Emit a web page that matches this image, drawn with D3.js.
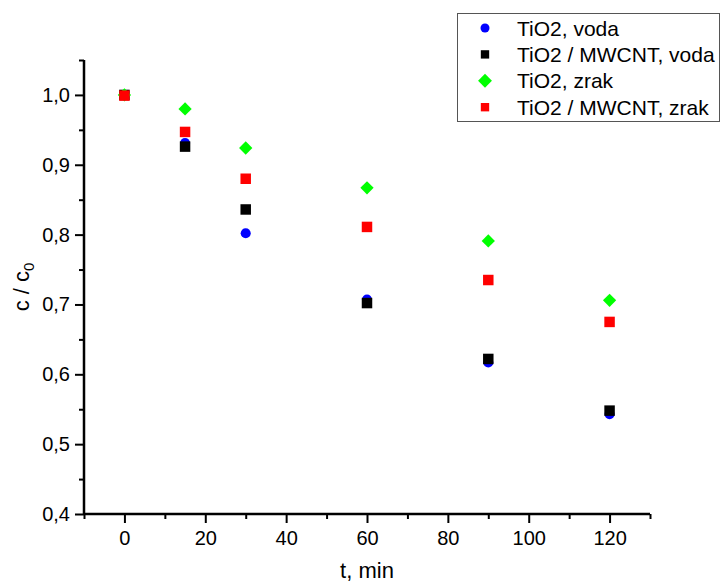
<!DOCTYPE html>
<html lang="hr">
<head>
<meta charset="UTF-8">
<title>c / c0 vs t</title>
<script src="https://cdnjs.cloudflare.com/ajax/libs/d3/7.8.5/d3.min.js"></script>
<style>
    * { margin: 0; padding: 0; }
    body { background: #fff; font-family: "Liberation Sans", Arial, sans-serif; }
    svg { display: block; }
    .axis path, .axis line { stroke: #000; }
</style>
</head>
<body>
<div id="chart"></div>
<script>
    // data
    var times = [0, 15, 30, 60, 90, 120];
    var tio2Voda = [1.0, 0.931, 0.802, 0.707, 0.617, 0.543];
    var mwcntVoda = [1.0, 0.926, 0.836, 0.702, 0.622, 0.548];
    var tio2Zrak = [1.0, 0.980, 0.924, 0.867, 0.791, 0.706];
    var mwcntZrak = [0.999, 0.947, 0.880, 0.811, 0.735, 0.675];
    var xTicks = [0, 20, 40, 60, 80, 100, 120];
    var yTicks = [0.4, 0.5, 0.6, 0.7, 0.8, 0.9, 1.0];

    // diamond = square turned 45deg (d3's own diamond is too tall)
    var series = [
        { name: "TiO2, voda", values: tio2Voda, color: "#0000ff", shape: d3.symbolCircle, rot: 0, size: 80, legSize: 64 },
        { name: "TiO2 / MWCNT, voda", values: mwcntVoda, color: "#000000", shape: d3.symbolSquare, rot: 0, size: 110, legSize: 70 },
        { name: "TiO2, zrak", values: tio2Zrak, color: "#00ff00", shape: d3.symbolSquare, rot: 45, size: 88, legSize: 96 },
        { name: "TiO2 / MWCNT, zrak", values: mwcntZrak, color: "#ff0000", shape: d3.symbolSquare, rot: 0, size: 110, legSize: 70 }
    ];

    var W = 721, H = 582;
    var mLeft = 84, mRight = 650, mTop = 60, mBottom = 514;

    var svg = d3.select("#chart").append("svg")
        .attr("width", W).attr("height", H);

    var x = d3.scaleLinear().domain([-10, 130]).range([mLeft, mRight]);
    var y = d3.scaleLinear().domain([0.4, 1.05]).range([mBottom, mTop]);

    var fmt = function(d) { return d3.format(".1f")(d).replace(".", ","); };

    // minor ticks first
    var xMinor = d3.range(-10, 131, 20);
    svg.append("g").attr("class", "axis")
        .attr("transform", "translate(0," + mBottom + ")")
        .call(d3.axisBottom(x).tickValues(xMinor).tickSize(5).tickFormat(""))
        .call(function(g) { g.select(".domain").remove(); })
        .selectAll("line").attr("stroke-width", 2);

    var yMinor = [0.45, 0.55, 0.65, 0.75, 0.85, 0.95, 1.05];
    svg.append("g").attr("class", "axis")
        .attr("transform", "translate(" + mLeft + ",0)")
        .call(d3.axisLeft(y).tickValues(yMinor).tickSize(5).tickFormat(""))
        .call(function(g) { g.select(".domain").remove(); })
        .selectAll("line").attr("stroke-width", 2);

    // major axes
    var xAxis = svg.append("g").attr("class", "axis")
        .attr("transform", "translate(0," + mBottom + ")")
        .call(d3.axisBottom(x).tickValues(xTicks).tickSize(9).tickSizeOuter(0).tickPadding(8));
    xAxis.select(".domain").attr("stroke-width", 2.5).attr("d", "M" + mLeft + ",0H" + mRight);
    xAxis.selectAll("line").attr("stroke-width", 2);
    xAxis.selectAll("text").attr("font-size", 20).attr("font-family", "Liberation Sans, Arial, sans-serif").attr("fill", "#000");

    var yAxis = svg.append("g").attr("class", "axis")
        .attr("transform", "translate(" + mLeft + ",0)")
        .call(d3.axisLeft(y).tickValues(yTicks).tickFormat(fmt).tickSize(9).tickSizeOuter(0).tickPadding(5));
    yAxis.select(".domain").attr("stroke-width", 2.5).attr("d", "M0," + mTop + "V" + mBottom);
    yAxis.selectAll("line").attr("stroke-width", 2);
    yAxis.selectAll("text").attr("font-size", 20).attr("font-family", "Liberation Sans, Arial, sans-serif").attr("fill", "#000");

    // axis titles
    svg.append("text")
        .attr("x", (mLeft + mRight) / 2).attr("y", 578)
        .attr("text-anchor", "middle")
        .attr("font-size", 22)
        .text("t, min");

    var yt = svg.append("text")
        .attr("transform", "translate(29," + ((mTop + mBottom) / 2) + ") rotate(-90)")
        .attr("text-anchor", "middle")
        .attr("font-size", 22);
    yt.append("tspan").text("c / c");
    yt.append("tspan").attr("font-size", 15).attr("dy", 5).text("0");

    // points
    series.forEach(function(s) {
        svg.append("g").selectAll("path")
            .data(s.values)
            .enter().append("path")
            .attr("d", d3.symbol().type(s.shape).size(s.size))
            .attr("transform", function(d, i) {
                return "translate(" + x(times[i]) + "," + y(d) + ") rotate(" + s.rot + ")";
            })
            .attr("fill", s.color);
    });

    // legend
    var leg = svg.append("g");
    leg.append("rect")
        .attr("x", 457.5).attr("y", 13.5)
        .attr("width", 262).attr("height", 108)
        .attr("fill", "#fff").attr("stroke", "#555").attr("stroke-width", 1);
    series.forEach(function(s, i) {
        var cy = 28 + i * 26.4;
        leg.append("path")
            .attr("d", d3.symbol().type(s.shape).size(s.legSize))
            .attr("transform", "translate(485," + cy + ") rotate(" + s.rot + ")")
            .attr("fill", s.color);
        leg.append("text")
            .attr("x", 517).attr("y", cy + 7.5)
            .attr("font-size", 21)
            .text(s.name);
    });
</script>
</body>
</html>
